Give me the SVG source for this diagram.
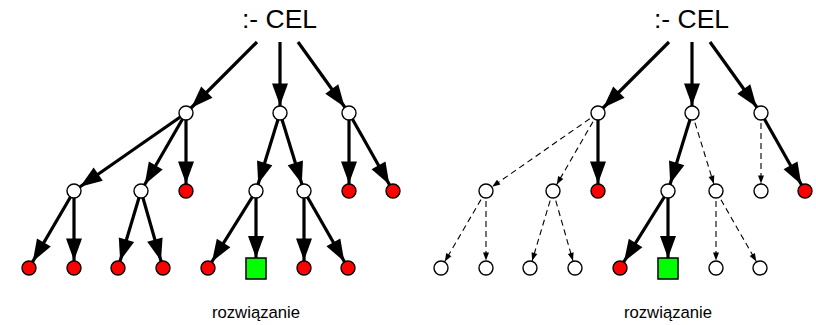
<svg xmlns="http://www.w3.org/2000/svg" width="816" height="325" viewBox="0 0 816 325">
<style>
.s{stroke:#000;stroke-width:3.2;fill:none;marker-end:url(#big)}
.d{stroke:#000;stroke-width:1.1;fill:none;stroke-dasharray:6 4;marker-end:url(#small)}
.w{fill:#fff;stroke:#000;stroke-width:1.4}
.r{fill:#f00;stroke:#000;stroke-width:1.4}
.g{fill:#0f0;stroke:#000;stroke-width:1.5}
.t{font-family:"Liberation Sans",Arial,sans-serif;fill:#000}
</style>
<defs>
<marker id="big" markerUnits="userSpaceOnUse" markerWidth="32" markerHeight="18" refX="29.5" refY="8" orient="auto" overflow="visible"><path d="M0,0 L22,8 L0,16 Z" fill="#000"/></marker>
<marker id="small" markerUnits="userSpaceOnUse" markerWidth="16" markerHeight="8" refX="15.5" refY="3" orient="auto" overflow="visible"><path d="M0,0 L8,3 L0,6 Z" fill="#000"/></marker>
</defs>
<g id="connectors">
<path class="s" d="M257,42 L186,113"/><path class="s" d="M280,42 L280,113"/><path class="s" d="M298,42 L349,113"/>
<path class="s" d="M186,113 L74,191"/><path class="s" d="M186,113 L141,191"/><path class="s" d="M186,113 L186,191"/>
<path class="s" d="M280,113 L256,191"/><path class="s" d="M280,113 L304,191"/>
<path class="s" d="M349,113 L349,191"/><path class="s" d="M349,113 L393,191"/>
<path class="s" d="M74,191 L29,268"/><path class="s" d="M74,191 L74,268"/>
<path class="s" d="M141,191 L118,268"/><path class="s" d="M141,191 L163,268"/>
<path class="s" d="M256,191 L208,268"/><path class="s" d="M256,191 L256,265.5"/>
<path class="s" d="M304,191 L304,268"/><path class="s" d="M304,191 L348,268"/>
<path class="s" d="M669,42 L598,113"/><path class="s" d="M692,42 L692,113"/><path class="s" d="M710,42 L761,113"/>
<path class="d" d="M598,113 L486,191"/><path class="d" d="M598,113 L553,191"/><path class="s" d="M598,113 L598,191"/>
<path class="s" d="M692,113 L668,191"/><path class="d" d="M692,113 L716,191"/>
<path class="d" d="M761,113 L761,191"/><path class="s" d="M761,113 L805,191"/>
<path class="d" d="M486,191 L441,268"/><path class="d" d="M486,191 L486,268"/>
<path class="d" d="M553,191 L530,268"/><path class="d" d="M553,191 L575,268"/>
<path class="s" d="M668,191 L620,268"/><path class="s" d="M668,191 L668,265.5"/>
<path class="d" d="M716,191 L716,268"/><path class="d" d="M716,191 L760,268"/>
</g>
<g id="L-root"><text class="t" x="242" y="28" font-size="26.5">:- CEL</text></g>
<g id="L-n1"><circle class="w" cx="186" cy="113" r="7"/></g>
<g id="L-n2"><circle class="w" cx="280" cy="113" r="7"/></g>
<g id="L-n3"><circle class="w" cx="349" cy="113" r="7"/></g>
<g id="L-n11"><circle class="w" cx="74" cy="191" r="7"/></g>
<g id="L-n12"><circle class="w" cx="141" cy="191" r="7"/></g>
<g id="L-n13"><circle class="r" cx="186" cy="191" r="7"/></g>
<g id="L-n21"><circle class="w" cx="256" cy="191" r="7"/></g>
<g id="L-n22"><circle class="w" cx="304" cy="191" r="7"/></g>
<g id="L-n31"><circle class="r" cx="349" cy="191" r="7"/></g>
<g id="L-n32"><circle class="r" cx="393" cy="191" r="7"/></g>
<g id="L-n111"><circle class="r" cx="29" cy="268" r="7"/></g>
<g id="L-n112"><circle class="r" cx="74" cy="268" r="7"/></g>
<g id="L-n121"><circle class="r" cx="118" cy="268" r="7"/></g>
<g id="L-n122"><circle class="r" cx="163" cy="268" r="7"/></g>
<g id="L-n211"><circle class="r" cx="208" cy="268" r="7"/></g>
<g id="L-n212"><rect class="g" x="246" y="258" width="20" height="21"/></g>
<g id="L-n221"><circle class="r" cx="304" cy="268" r="7"/></g>
<g id="L-n222"><circle class="r" cx="348" cy="268" r="7"/></g>
<g id="L-label"><text class="t" x="256" y="318" font-size="16.7" text-anchor="middle">rozwiązanie</text></g>
<g id="R-root"><text class="t" x="654" y="28" font-size="26.5">:- CEL</text></g>
<g id="R-n1"><circle class="w" cx="598" cy="113" r="7"/></g>
<g id="R-n2"><circle class="w" cx="692" cy="113" r="7"/></g>
<g id="R-n3"><circle class="w" cx="761" cy="113" r="7"/></g>
<g id="R-n11"><circle class="w" cx="486" cy="191" r="7"/></g>
<g id="R-n12"><circle class="w" cx="553" cy="191" r="7"/></g>
<g id="R-n13"><circle class="r" cx="598" cy="191" r="7"/></g>
<g id="R-n21"><circle class="w" cx="668" cy="191" r="7"/></g>
<g id="R-n22"><circle class="w" cx="716" cy="191" r="7"/></g>
<g id="R-n31"><circle class="w" cx="761" cy="191" r="7"/></g>
<g id="R-n32"><circle class="r" cx="805" cy="191" r="7"/></g>
<g id="R-n111"><circle class="w" cx="441" cy="268" r="7"/></g>
<g id="R-n112"><circle class="w" cx="486" cy="268" r="7"/></g>
<g id="R-n121"><circle class="w" cx="530" cy="268" r="7"/></g>
<g id="R-n122"><circle class="w" cx="575" cy="268" r="7"/></g>
<g id="R-n211"><circle class="r" cx="620" cy="268" r="7"/></g>
<g id="R-n212"><rect class="g" x="658" y="258" width="20" height="21"/></g>
<g id="R-n221"><circle class="w" cx="716" cy="268" r="7"/></g>
<g id="R-n222"><circle class="w" cx="760" cy="268" r="7"/></g>
<g id="R-label"><text class="t" x="668" y="318" font-size="16.7" text-anchor="middle">rozwiązanie</text></g>
</svg>
